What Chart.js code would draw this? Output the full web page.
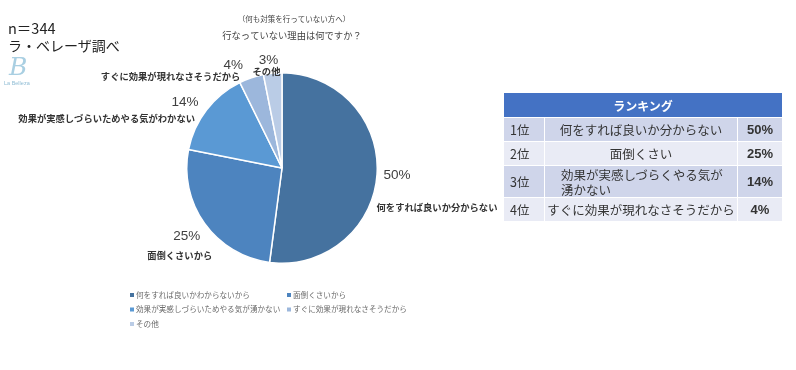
<!DOCTYPE html>
<html>
<head>
<meta charset="utf-8">
<script src="https://cdn.jsdelivr.net/npm/chart.js@4"></script>
<style>
  html,body{margin:0;padding:0;background:#fff;}
  #wrap{position:relative;width:796px;height:370px;overflow:hidden;font-family:"Noto Sans CJK JP","Noto Sans",sans-serif;}
  #c{position:absolute;left:0;top:0;}
  .t{position:absolute;white-space:nowrap;color:#222;}
  #rank{position:absolute;left:503px;top:92px;width:280px;border-collapse:collapse;font-family:"Noto Sans CJK JP",sans-serif;color:#333;}
  #rank td,#rank th{border:1.5px solid #fff;padding:0;}
  #rank th{background:#4472C4;color:#fff;font-size:12px;font-weight:bold;height:24px;}
  #rank td{font-size:12.5px;}
  #rank tr.d td{background:#CFD5EA;}
  #rank tr.l td{background:#E9EBF5;}
  #rank td.rk{width:34px;padding-left:6px;}
  #rank td.nm{text-align:center;line-height:15px;}
  #rank td.nm.wrap{text-align:left;padding-left:16px;}
  #rank td.pc{width:44px;text-align:center;font-weight:bold;font-family:"Liberation Sans","Noto Sans",sans-serif;font-size:13px;}
</style>
</head>
<body>
<div id="wrap">
  <canvas id="c" width="796" height="370"></canvas>
  <div class="t" style="left:8px;top:17px;font-size:14.5px;color:#222;">n＝344</div>
  <div class="t" style="left:8px;top:35px;font-size:14px;color:#222;">ラ・ベレーザ調べ</div>
  <div class="t" style="left:9px;top:52px;font-size:25px;color:#a9cfe2;font-family:'DejaVu Serif',serif;font-style:italic;">B</div>
  <div class="t" style="left:4px;top:80px;font-size:5.5px;color:#8fbcd4;font-family:'Liberation Sans',sans-serif;">La Belleza</div>
  <table id="rank"></table>
</div>
<script>
// ---- data ----
const categories = ["何をすれば良いか分からない", "面倒くさいから", "効果が実感しづらいためやる気がわかない", "すぐに効果が現れなさそうだから", "その他"];
const legendLabels = ["何をすれば良いかわからないから", "面倒くさいから", "効果が実感しづらいためやる気が湧かない", "すぐに効果が現れなさそうだから", "その他"];
const values = [50, 25, 14, 4, 3];
const titleLine1 = "（何も対策を行っていない方へ）";
const titleLine2 = "行なっていない理由は何ですか？";
const rankLabels = ["1位", "2位", "3位", "4位"];
const rankNames = ["何をすれば良いか分からない", "面倒くさい", "効果が実感しづらくやる気が湧かない", "すぐに効果が現れなさそうだから"];
const rankValues = [50, 25, 14, 4];

// ---- styles ----
const colors = ["#45729F", "#4D84BF", "#5A99D4", "#9CB7DC", "#BACCE6"];
// label layout (polar offset from arc edge + nudges): style only
const labelLayout = [
  {dist: 20, dx: 0,   dy: 0,  textDx: 40,  textDy: 32, align: "center"},
  {dist: 22, dx: 0,   dy: 0,  textDx: -7,  textDy: 19, align: "center"},
  {dist: 22, dx: -4,  dy: 6,  textDx: 10,  textDy: 16, align: "right"},
  {dist: 22, dx: -11, dy: 8,  textDx: 7,   textDy: 11, align: "right"},
  {dist: 22, dx: -2,  dy: 9,  textDx: -2,  textDy: 11, align: "center"}
];

// ranking table (HTML text)
const tbl = document.getElementById('rank');
let html = '<tr><th colspan="3">ランキング</th></tr>';
rankLabels.forEach((r, i) => {
  const cls = i % 2 === 0 ? 'd' : 'l';
  const isWrap = rankNames[i].length > 16;
  let name = rankNames[i];
  if (isWrap) name = name.slice(0, 13) + '<br>' + name.slice(13);
  const h = isWrap ? 32 : 24;
  html += `<tr class="${cls}" style="height:${h}px"><td class="rk">${r}</td><td class="nm${isWrap ? ' wrap' : ''}">${name}</td><td class="pc">${rankValues[i]}%</td></tr>`;
});
tbl.innerHTML = html;

const labelPlugin = {
  id: 'outLabels',
  afterDatasetsDraw(chart) {
    const ctx = chart.ctx;
    const meta = chart.getDatasetMeta(0);
    ctx.save();
    meta.data.forEach((arc, i) => {
      const L = labelLayout[i];
      const mid = (arc.startAngle + arc.endAngle) / 2;
      const r = arc.outerRadius + L.dist;
      const x = arc.x + Math.cos(mid) * r + L.dx;
      const y = arc.y + Math.sin(mid) * r + L.dy;
      ctx.fillStyle = '#404040';
      ctx.font = '13.5px "Liberation Sans", "Noto Sans", sans-serif';
      ctx.textAlign = 'center';
      ctx.textBaseline = 'middle';
      ctx.fillText(values[i] + '%', x, y);
      ctx.font = 'bold 9.3px "Noto Sans CJK JP", sans-serif';
      ctx.fillStyle = '#333';
      ctx.textAlign = L.align;
      ctx.fillText(categories[i], x + L.textDx, y + L.textDy);
    });
    // title
    const cx = meta.data[0].x;
    ctx.fillStyle = '#444';
    ctx.textAlign = 'center';
    ctx.font = '7.5px "Noto Sans CJK JP", sans-serif';
    ctx.fillText(titleLine1, cx + 12, 19);
    ctx.font = '9.3px "Noto Sans CJK JP", sans-serif';
    ctx.fillText(titleLine2, cx + 10, 35);
    // legend
    ctx.font = '7.6px "Noto Sans CJK JP", sans-serif';
    ctx.textAlign = 'left';
    const colX = [130, 287];
    legendLabels.forEach((lab, i) => {
      const col = i % 2, row = Math.floor(i / 2);
      const lx = colX[col], ly = 295 + row * 14.5;
      ctx.fillStyle = colors[i];
      ctx.fillRect(lx, ly - 2, 4, 4);
      ctx.fillStyle = '#6a6a6a';
      ctx.fillText(lab, lx + 6, ly);
    });
    ctx.restore();
  }
};

new Chart(document.getElementById('c'), {
  type: 'pie',
  data: {
    labels: categories,
    datasets: [{
      data: values,
      backgroundColor: colors,
      borderColor: '#ffffff',
      borderWidth: 1.5
    }]
  },
  options: {
    responsive: false,
    animation: false,
    layout: {padding: {left: 186, right: 418, top: 72, bottom: 106}},
    plugins: {legend: {display: false}, tooltip: {enabled: false}, title: {display: false}}
  },
  plugins: [labelPlugin]
});
</script>
</body>
</html>
